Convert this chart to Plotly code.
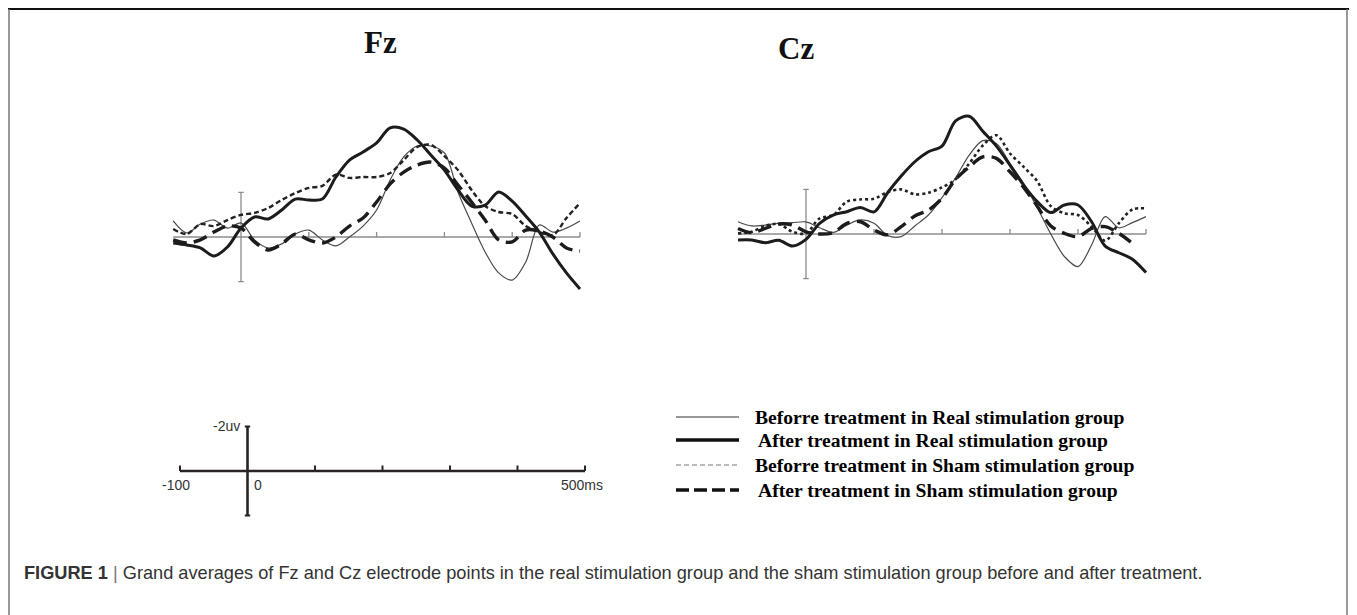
import plotly.graph_objects as go

# page body adds an 8px margin, so the figure is 8px smaller and coordinates are offset
OFF = 8
W, H = 1357 - OFF, 615 - OFF

# ---------------- data (μV, negative plotted upward) ----------------
time_ms = [-100, -80, -60, -40, -20, 0, 20, 40, 60, 80, 100, 120, 140, 160, 180,
           200, 220, 240, 260, 280, 300, 320, 340, 360, 380, 400, 420, 440, 460, 480, 500]

fz_before_real = [-0.72, -0.18, -0.58, -0.76, -0.40, -0.63, 0.13, 0.49, 0.31, -0.13, -0.31,
                  0.13, 0.40, 0.0, -0.49, -1.21, -2.56, -3.59, -4.08, -4.08, -3.77, -2.02,
                  -0.63, 0.67, 1.61, 1.93, 1.12, -0.54, -0.22, -0.40, -0.72]
fz_after_real = [0.27, 0.36, 0.49, 0.85, 0.45, -0.40, -0.90, -0.81, -1.21, -1.70, -1.66,
                 -1.70, -2.69, -3.45, -3.81, -4.22, -4.89, -4.84, -4.35, -3.68, -3.00, -2.11,
                 -1.39, -1.43, -2.02, -1.61, -0.94, -0.22, 0.76, 1.61, 2.33]
fz_before_sham = [-0.36, -0.13, -0.58, -0.49, -0.76, -0.99, -1.08, -1.30, -1.66, -1.97, -2.20,
                  -2.29, -2.80, -2.65, -2.69, -2.69, -2.87, -3.45, -4.04, -4.13, -3.63, -3.00,
                  -2.11, -1.39, -1.12, -1.03, -0.49, -0.22, -0.09, -0.85, -1.52]
fz_after_sham = [0.13, 0.27, 0.13, -0.22, -0.49, -0.40, 0.22, 0.58, 0.31, -0.13, 0.13,
                 0.27, 0.0, -0.49, -0.85, -1.57, -2.38, -2.91, -3.23, -3.36, -3.09, -2.33,
                 -1.57, -0.76, 0.13, 0.22, -0.31, -0.27, 0.0, 0.49, 0.63]

cz_before_real = [-0.55, -0.36, -0.40, -0.48, -0.51, -0.54, -0.28, -0.07, -0.40, -0.63, -0.48,
                  0.07, 0.12, -0.36, -0.85, -1.63, -2.52, -3.54, -4.19, -4.06, -3.16, -2.27,
                  -1.19, 0.0, 1.01, 1.46, 0.49, -0.78, -0.28, -0.51, -0.78]
cz_after_real = [0.27, 0.27, 0.39, 0.28, 0.54, 0.24, -0.48, -0.85, -1.0, -1.19, -0.99,
                 -1.85, -2.60, -3.24, -3.69, -3.94, -5.07, -5.28, -4.61, -3.94, -3.09, -2.19,
                 -1.45, -0.96, -1.30, -1.30, -0.55, 0.54, 0.84, 1.13, 1.73]
cz_before_sham = [-0.03, -0.10, -0.36, -0.45, -0.10, -0.03, -0.70, -0.85, -1.45, -1.55, -1.58,
                  -1.88, -2.0, -1.78, -1.85, -2.09, -2.45, -3.16, -3.97, -4.43, -3.61, -3.01,
                  -2.37, -1.25, -0.93, -0.85, -0.33, 0.30, -0.48, -1.10, -1.15]
cz_after_sham = [-0.25, -0.06, -0.25, -0.45, -0.40, -0.10, 0.0, -0.06, -0.48, -0.55, -0.18,
                 0.04, -0.33, -0.81, -1.07, -1.60, -2.45, -3.01, -3.46, -3.39, -2.79, -2.09,
                 -1.25, -0.36, -0.03, 0.12, -0.25, -0.33, -0.03, 0.42, None]

axis_ticks_ms = [100, 200, 300, 400, 500]
scale_ticks_ms = [-100, 100, 200, 300, 400, 500]
scale_uv = 2

panel_titles = ["Fz", "Cz"]
legend_labels = ["Beforre treatment in Real stimulation group",
                 "After treatment in Real stimulation group",
                 "Beforre treatment in Sham stimulation group",
                 "After treatment in Sham stimulation group"]
caption = ("<b>FIGURE 1</b> <span style='color:#777'>|</span> Grand averages of Fz and Cz electrode points in "
           "the real stimulation group and the sham stimulation group before and after treatment.")


def px(x):
    return (x - OFF) / W


def py(y):
    return 1 - (y - OFF) / H


# styles
STY_BR = dict(color="#4a4a4a", width=1.2)
STY_AR = dict(color="#1c1c1c", width=3.0)
STY_BS_FZ = dict(color="#222222", width=2.4, dash="5px,3px")
STY_BS_CZ = dict(color="#222222", width=2.6, dash="dot")
STY_AS = dict(color="#1c1c1c", width=3.4, dash="14px,7px")

fig = go.Figure()

panels = [
    ("x", "y", fz_before_real, fz_after_real, fz_before_sham, fz_after_sham, STY_BS_FZ),
    ("x2", "y2", cz_before_real, cz_after_real, cz_before_sham, cz_after_sham, STY_BS_CZ),
]
for xa, ya, br, ar, bs, as_, bs_sty in panels:
    for vals, sty in [(br, STY_BR), (bs, bs_sty), (as_, STY_AS), (ar, STY_AR)]:
        fig.add_trace(go.Scatter(x=time_ms, y=vals, mode="lines", xaxis=xa, yaxis=ya,
                                 line=dict(shape="spline", smoothing=0.9, **sty),
                                 showlegend=False, hoverinfo="skip", connectgaps=False))

shapes = []
GREY = "#8c8c8c"
for xr, yr in [("x", "y"), ("x2", "y2")]:
    shapes.append(dict(type="line", xref=xr, yref=yr, x0=time_ms[0], x1=time_ms[-1], y0=0, y1=0,
                       line=dict(color=GREY, width=1.3), layer="below"))
    for t in axis_ticks_ms:
        shapes.append(dict(type="line", xref=xr, yref=yr, x0=t, x1=t, y0=0, y1=-0.22,
                           line=dict(color=GREY, width=1.3), layer="below"))
    shapes.append(dict(type="line", xref=xr, yref=yr, x0=0, x1=0, y0=-scale_uv, y1=scale_uv,
                       line=dict(color=GREY, width=1.3), layer="below"))
    for yv in (-scale_uv, scale_uv):
        shapes.append(dict(type="line", xref=xr, yref=yr, x0=-4, x1=4, y0=yv, y1=yv,
                           line=dict(color=GREY, width=1.3), layer="below"))

# scale bar (panel 3)
DARK = "#2b2424"
shapes.append(dict(type="line", xref="x3", yref="y3", x0=time_ms[0], x1=time_ms[-1], y0=0, y1=0,
                   line=dict(color=DARK, width=2.6)))
for t in scale_ticks_ms:
    shapes.append(dict(type="line", xref="x3", yref="y3", x0=t, x1=t, y0=0, y1=-0.25,
                       line=dict(color=DARK, width=2.0)))
shapes.append(dict(type="line", xref="x3", yref="y3", x0=0, x1=0, y0=-scale_uv, y1=scale_uv,
                   line=dict(color=DARK, width=2.6)))
for yv in (-scale_uv, scale_uv):
    shapes.append(dict(type="line", xref="x3", yref="y3", x0=-4, x1=4, y0=yv, y1=yv,
                       line=dict(color=DARK, width=2.0)))

# legend samples
leg_rows = [417, 440, 465, 490]
leg_styles = [dict(color="#333333", width=1.1),
              dict(color="#111111", width=3.6),
              dict(color="#777777", width=1.1, dash="5px,3px"),
              dict(color="#111111", width=3.6, dash="13px,5px")]
for yy, sty in zip(leg_rows, leg_styles):
    shapes.append(dict(type="line", xref="paper", yref="paper", x0=px(676), x1=px(739),
                       y0=py(yy), y1=py(yy), line=sty))

# figure border (kept inside the visible figure area)
shapes.append(dict(type="line", xref="paper", yref="paper", x0=px(8), x1=1, y0=py(9), y1=py(9),
                   line=dict(color="#111111", width=2)))
shapes.append(dict(type="line", xref="paper", yref="paper", x0=px(9), x1=px(9), y0=py(9), y1=0,
                   line=dict(color="#777777", width=1.5)))
shapes.append(dict(type="line", xref="paper", yref="paper", x0=px(1347), x1=px(1347), y0=py(9), y1=0,
                   line=dict(color="#777777", width=1.5)))

annotations = []
TITLE_FONT = dict(family="Liberation Serif", size=31, color="#111111")
for txt, cx, cy in [(panel_titles[0], 380, 42), (panel_titles[1], 796, 49)]:
    annotations.append(dict(text="<b>%s</b>" % txt, xref="paper", yref="paper", x=px(cx), y=py(cy),
                            showarrow=False, xanchor="center", yanchor="middle", font=TITLE_FONT))

LBL_FONT = dict(family="Liberation Sans", size=14, color="#333333")
annotations += [
    dict(text="-2uv", xref="x3", yref="y3", x=0, y=-scale_uv, xshift=-6, showarrow=False,
         xanchor="right", yanchor="middle", font=LBL_FONT),
    dict(text="-100", xref="x3", yref="y3", x=-100, y=0, xshift=-4, yshift=-14, showarrow=False,
         xanchor="center", yanchor="middle", font=LBL_FONT),
    dict(text="0", xref="x3", yref="y3", x=0, y=0, xshift=10, yshift=-14, showarrow=False,
         xanchor="center", yanchor="middle", font=LBL_FONT),
    dict(text="500ms", xref="x3", yref="y3", x=500, y=0, xshift=-3, yshift=-14, showarrow=False,
         xanchor="center", yanchor="middle", font=LBL_FONT),
]

LEG_FONT = dict(family="Liberation Serif", size=19.6, color="#000000")
for lbl, yy, xx in zip(legend_labels, leg_rows, [753, 756, 753, 756]):
    annotations.append(dict(text="<b>%s</b>" % lbl, xref="paper", yref="paper", x=px(xx), y=py(yy),
                            showarrow=False, xanchor="left", yanchor="middle", font=LEG_FONT))

annotations.append(dict(text=caption, xref="paper", yref="paper", x=px(22), y=py(573),
                        showarrow=False, xanchor="left", yanchor="middle",
                        font=dict(family="Liberation Sans", size=18.2, color="#333333")))


# axis geometry: Fz 0ms at x=241, Cz 0ms at x=806; ~0.68 px/ms; 22.3 px/μV
def xdom(zero_px, lo, hi, ppm=0.678):
    return [px(zero_px + lo * ppm), px(zero_px + hi * ppm)]


def ydom(base_px, lo, hi, ppu=22.3):
    # lo = most negative (top), hi = most positive (bottom)
    return [py(base_px + hi * ppu), py(base_px + lo * ppu)]


XR = [-115, 515]
YR = [-6, 3]
hidden = dict(visible=False, showgrid=False, zeroline=False, fixedrange=True)

fig.update_layout(
    width=W, height=H, margin=dict(l=0, r=0, t=0, b=0),
    paper_bgcolor="white", plot_bgcolor="rgba(0,0,0,0)", showlegend=False,
    xaxis=dict(domain=xdom(241, *XR), range=XR, anchor="y", **hidden),
    yaxis=dict(domain=ydom(237, *YR), range=[YR[1], YR[0]], anchor="x", **hidden),
    xaxis2=dict(domain=xdom(806, *XR, ppm=0.68), range=XR, anchor="y2", **hidden),
    yaxis2=dict(domain=ydom(234, *YR), range=[YR[1], YR[0]], anchor="x2", **hidden),
    xaxis3=dict(domain=xdom(247.5, -110, 510, ppm=0.675), range=[-110, 510], anchor="y3", **hidden),
    yaxis3=dict(domain=ydom(471, -2.5, 2.5), range=[2.5, -2.5], anchor="x3", **hidden),
    shapes=shapes, annotations=annotations,
)

fig.write_html("out.html")
